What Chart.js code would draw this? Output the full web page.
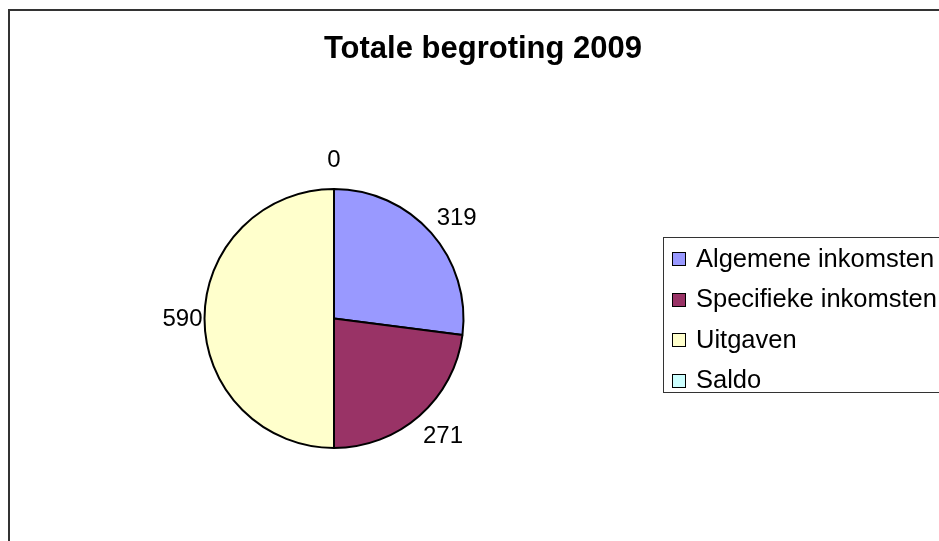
<!DOCTYPE html>
<html>
<head>
<meta charset="utf-8">
<script src="https://cdn.jsdelivr.net/npm/chart.js@4/dist/chart.umd.min.js"></script>
<style>
  html, body { margin: 0; padding: 0; background: #fff; overflow: hidden; }
  #frame { position: absolute; left: 8px; top: 9px; width: 946px; height: 560px; border: 2px solid #333; }
  #frame canvas { display: block; }
</style>
</head>
<body>
<div id="frame"><canvas id="pie" width="946" height="560"></canvas></div>
<script>
(() => {
'use strict';

const TITLE = 'Totale begroting 2009';
const labels = ['Algemene inkomsten', 'Specifieke inkomsten', 'Uitgaven', 'Saldo'];
const values = [319, 271, 590, 0];
const colors = ['#9999FF', '#993366', '#FFFFCC', '#CCFFFF'];

const FONT = "'Liberation Sans', Arial, sans-serif";

// value labels just outside the rim, Excel style
const outsideLabels = {
    id: 'outsideLabels',
    afterDatasetsDraw(chart) {
        const ctx = chart.ctx;
        const meta = chart.getDatasetMeta(0);
        ctx.save();
        ctx.font = '24px ' + FONT;
        ctx.fillStyle = '#000';
        ctx.textAlign = 'center';
        ctx.textBaseline = 'middle';
        meta.data.forEach((arc, i) => {
            const p = arc.getProps(['x', 'y', 'startAngle', 'endAngle', 'outerRadius'], true);
            const mid = (p.startAngle + p.endAngle) / 2;
            const cx = Math.cos(mid), cy = Math.sin(mid);
            const txt = String(values[i]);
            const w = ctx.measureText(txt).width, h = 20;
            const pad = 2 + 18 * Math.abs(cy);
            const x = p.x + (p.outerRadius + pad) * cx + w / 2 * cx;
            const y = p.y + (p.outerRadius + pad) * cy + h / 2 * cy;
            ctx.fillText(txt, x, y + 1);
        });
        ctx.restore();
    }
};

// title over the whole frame, boxed legend on the right (Excel look)
const frameDecor = {
    id: 'frameDecor',
    afterDraw(chart) {
        const ctx = chart.ctx;
        ctx.save();
        ctx.fillStyle = '#000';
        ctx.font = 'bold 31px ' + FONT;
        ctx.textAlign = 'center';
        ctx.textBaseline = 'middle';
        ctx.fillText(TITLE, 473, 38);

        const left = 653, top = 226, height = 155, rowTop = 247.5, rowGap = 40.5;
        ctx.strokeStyle = '#333';
        ctx.lineWidth = 1;
        ctx.strokeRect(left + 0.5, top + 0.5, 400, height);
        ctx.font = '25.5px ' + FONT;
        ctx.textAlign = 'left';
        labels.forEach((l, i) => {
            const y = rowTop + i * rowGap;
            const by = Math.round(y - 6.5) + 0.5;
            ctx.fillStyle = colors[i];
            ctx.fillRect(left + 9.5, by, 13, 13);
            ctx.strokeStyle = '#000';
            ctx.strokeRect(left + 9.5, by, 13, 13);
            ctx.fillStyle = '#000';
            ctx.fillText(l, left + 33, y + 1);
        });
        ctx.restore();
    }
};

new Chart(document.getElementById('pie'), {
    type: 'pie',
    data: {
        labels: labels,
        datasets: [{
            data: values,
            backgroundColor: colors,
            borderColor: '#000',
            borderWidth: 2
        }]
    },
    plugins: [outsideLabels, frameDecor],
    options: {
        responsive: false,
        animation: false,
        events: [],
        layout: { padding: { left: 0, right: 298, top: 177, bottom: 122 } },
        plugins: {
            tooltip: { enabled: false },
            legend: { display: false },
            title: { display: false }
        }
    }
});
})();
</script>
</body>
</html>
